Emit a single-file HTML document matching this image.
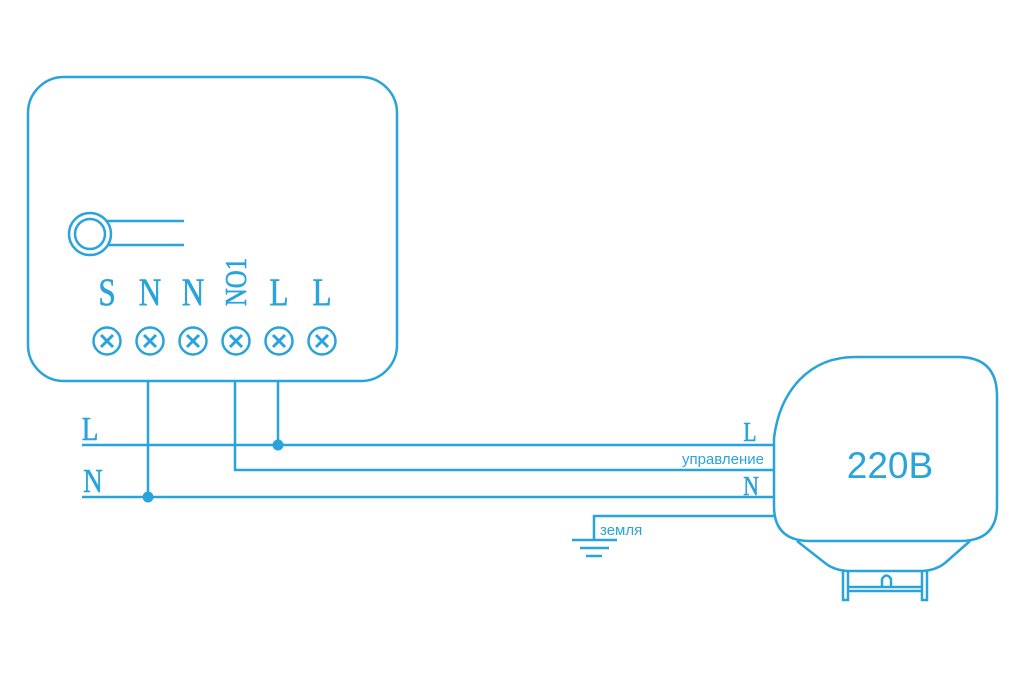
<!DOCTYPE html>
<html><head><meta charset="utf-8"><style>
html,body{margin:0;padding:0;background:#fff}
svg{display:block}
.t{font-family:"Liberation Serif",serif;font-size:39px;fill:#29a3dc}
.s{font-family:"Liberation Sans","DejaVu Sans",sans-serif;fill:#29a3dc}
</style></head><body>
<svg width="1024" height="677" viewBox="0 0 1024 677" xmlns="http://www.w3.org/2000/svg">
<g fill="none" stroke="#29a3dc" stroke-width="2.5">
<rect x="28" y="77" width="369" height="304" rx="36"/>
<circle cx="90" cy="234" r="21"/>
<circle cx="90" cy="234" r="15"/>
<line x1="107" y1="221" x2="184" y2="221"/>
<line x1="107" y1="245" x2="184" y2="245"/>
</g>
<g fill="none" stroke="#29a3dc" stroke-width="2.5">
<circle cx="107" cy="341" r="13.5"/><circle cx="150" cy="341" r="13.5"/><circle cx="193" cy="341" r="13.5"/>
<circle cx="236" cy="341" r="13.5"/><circle cx="279" cy="341" r="13.5"/><circle cx="322" cy="341" r="13.5"/>
</g>
<g stroke="#29a3dc" stroke-width="3">
<path d="M101 335l12 12M113 335l-12 12M144 335l12 12M156 335l-12 12M187 335l12 12M199 335l-12 12M230 335l12 12M242 335l-12 12M273 335l12 12M285 335l-12 12M316 335l12 12M328 335l-12 12"/>
</g>
<g class="t" stroke="#29a3dc" stroke-width="0.6">
<text transform="translate(107 305) scale(0.8 1)" text-anchor="middle">S</text>
<text transform="translate(150 305) scale(0.8 1)" text-anchor="middle">N</text>
<text transform="translate(193 305) scale(0.8 1)" text-anchor="middle">N</text>
<text transform="translate(246 282) rotate(-90) scale(0.8 1)" text-anchor="middle" style="font-size:31px">NO1</text>
<text transform="translate(279 305) scale(0.8 1)" text-anchor="middle">L</text>
<text transform="translate(322 305) scale(0.8 1)" text-anchor="middle">L</text>
<text transform="translate(90 440) scale(0.8 1)" text-anchor="middle" style="font-size:34px">L</text>
<text transform="translate(93 492) scale(0.8 1)" text-anchor="middle" style="font-size:34px">N</text>
<text transform="translate(750 441) scale(0.8 1)" text-anchor="middle" style="font-size:27px">L</text>
<text transform="translate(751 495) scale(0.8 1)" text-anchor="middle" style="font-size:27px">N</text>
</g>
<g fill="none" stroke="#29a3dc" stroke-width="2.5">
<line x1="148" y1="381" x2="148" y2="497"/>
<polyline points="235,381 235,470 774,470"/>
<line x1="278" y1="381" x2="278" y2="445"/>
<line x1="82" y1="445" x2="774" y2="445"/>
<line x1="82" y1="497" x2="774" y2="497"/>
<polyline points="594,540 594,516 774,516"/>
<line x1="572" y1="540" x2="617" y2="540"/>
<line x1="580" y1="548" x2="609" y2="548"/>
<line x1="586" y1="556" x2="602" y2="556"/>
<path d="M774 438 C780 390 810 357 855 357 L958 357 Q997 357 997 396 L997 506 Q997 541 960 541 L810 541 Q774 541 774 506 Z"/>
<path d="M797 541 L825 563 Q835 571 850 571 L920 571 Q935 571 945 563 L970 541"/>
<path d="M843 571V600h5V571M922 571V600h5V571M848 587h74M848 591h74M882 586V579q4.5-7 9 0V586"/>
</g>
<circle cx="278" cy="445" r="5.5" fill="#29a3dc"/>
<circle cx="148" cy="497" r="5.5" fill="#29a3dc"/>
<text class="s" x="764" y="464" text-anchor="end" font-size="15">управление</text>
<text class="s" x="600" y="535" font-size="15">земля</text>
<text class="s" x="890" y="478" text-anchor="middle" font-size="37">220B</text>
</svg>
</body></html>
